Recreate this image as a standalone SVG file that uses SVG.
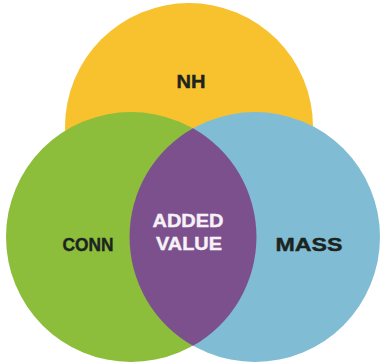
<svg xmlns="http://www.w3.org/2000/svg" width="380" height="363" viewBox="0 0 380 363">
<style>
.lbl{font-family:"Liberation Sans",Arial,sans-serif;font-weight:bold;font-size:18px;text-anchor:middle;stroke-width:0.4px}
.dark{fill:#1c2420;stroke:#1c2420}
.light{fill:#f6f1f7;stroke:#f6f1f7}
</style>
<rect width="380" height="363" fill="#ffffff"/>
<g id="nh">
<circle cx="189" cy="127" r="124" fill="#f8c22f"/>
<text class="lbl dark" x="191" y="88" textLength="29" lengthAdjust="spacingAndGlyphs">NH</text>
</g>
<g id="conn">
<circle cx="131" cy="237" r="125" fill="#8cbd3b"/>
</g>
<g id="mass">
<circle cx="255" cy="237" r="125" fill="#80bdd5"/>
</g>
<g id="added-value">
<path d="M193 128.2 A125 125 0 0 1 193 345.8 A125 125 0 0 1 193 128.2 Z" fill="#7c4f8d"/>
<text class="lbl light" x="188" y="227" textLength="71" lengthAdjust="spacingAndGlyphs">ADDED</text>
<text class="lbl light" x="189" y="250" textLength="66" lengthAdjust="spacingAndGlyphs">VALUE</text>
</g>
<g id="conn-label">
<text class="lbl dark" x="88" y="251" textLength="51" lengthAdjust="spacingAndGlyphs">CONN</text>
</g>
<g id="mass-label">
<text class="lbl dark" x="309" y="251" textLength="67" lengthAdjust="spacingAndGlyphs">MASS</text>
</g>
<g id="connectors"/>
</svg>
